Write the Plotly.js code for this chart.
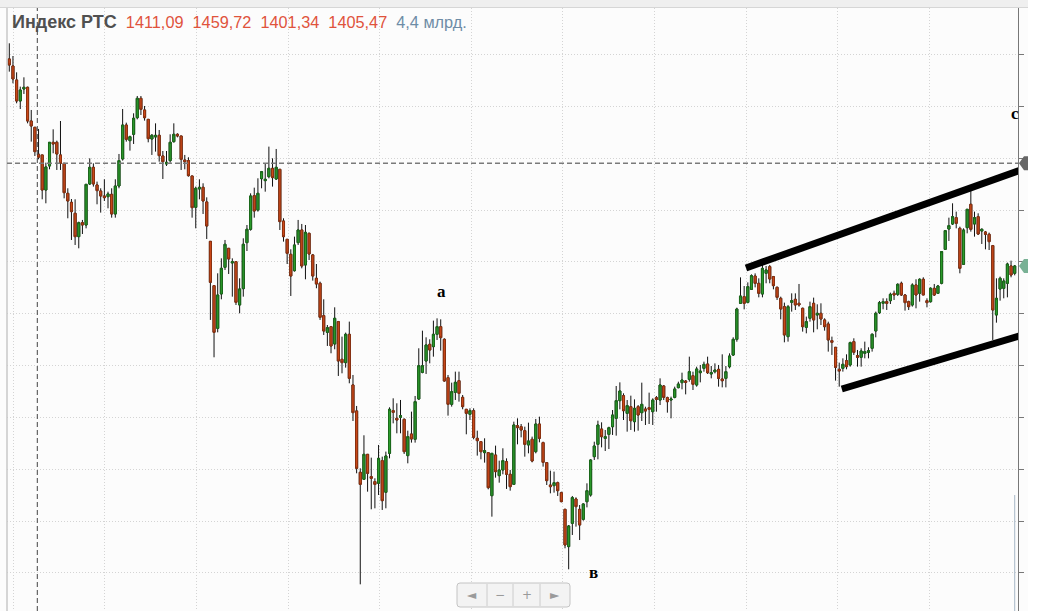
<!DOCTYPE html>
<html>
<head>
<meta charset="utf-8">
<script src="https://cdn.plot.ly/plotly-3.0.1.min.js"></script>
<style>
  html, body { margin: 0; padding: 0; background: #fcfcfc; }
  #chart { width: 1040px; height: 611px; }
</style>
</head>
<body>
<div id="chart"></div>
<script>
// ---- Weekly candles of the RTS index ----
const open = [
1594.3,1580.8,1553.9,1513.5,1536.6,1539.8,1475.0,1462.9,1411.09,1409.7,
1342.3,1388.5,1434.0,1434.0,1409.7,1393.6,1335.9,1318.6,1297.5,1252.6,
1279.5,1275.0,1353.9,1385.9,1352.0,1340.4,1330.8,1329.5,1334.0,1296.2,
1350.0,1402.0,1467.3,1437.2,1449.4,1481.4,1518.6,1496.2,1478.2,1440.4,
1444.3,1447.5,1407.7,1392.3,1398.8,1435.3,1449.4,1446.2,1400.0,1398.8,
1369.3,1309.0,1344.3,1347.5,1319.3,1243.6,1158.4,1076.3,1142.4,1193.6,
1230.2,1202.0,1204.5,1121.2,1152.6,1241.1,1266.7,1331.5,1303.9,1364.1,
1360.3,1368.0,1384.0,1363.5,1382.1,1282.7,1247.5,1218.6,1187.2,1241.1,
1265.4,1198.1,1259.0,1217.4,1172.5,1162.9,1100.7,1068.6,1079.5,1046.2,
1089.2,1016.7,1010.3,1064.8,967.4,917.4,799.4,786.0,834.0,791.1,
781.5,778.3,821.9,761.0,835.9,918.0,903.2,905.2,901.3,831.5,
873.1,862.9,940.4,991.7,1013.5,1045.5,1041.1,1064.8,1079.5,1055.2,
981.4,930.2,953.2,975.7,943.6,920.6,910.9,918.0,864.8,858.4,
837.2,837.2,754.5,832.7,793.0,803.9,819.9,795.6,776.3,889.1,
887.2,879.5,852.0,862.9,839.1,892.3,856.5,818.0,775.0,773.8,
779.5,760.3,728.3,656.5,701.3,748.1,728.2,709.0,742.9,755.8,
829.5,853.2,882.7,864.7,872.4,887.1,903.2,937.2,946.8,912.8,
925.6,896.8,925.6,914.1,921.1,923.7,916.0,942.9,938.4,965.4,
942.9,938.4,943.6,962.2,971.8,975.0,978.2,985.2,967.3,991.0,
999.3,1007.7,988.5,992.9,997.4,978.8,980.1,1002.5,1025.0,1055.1,
1124.3,1137.2,1126.3,1151.3,1176.9,1162.8,1142.3,1182.1,1194.9,1175.7,
1155.2,1134.0,1118.0,1060.3,1126.3,1132.1,1124.4,1114.8,1078.2,1095.6,
1124.4,1102.0,1105.2,1092.4,1084.7,1052.6,1039.8,997.5,999.4,1014.1,
1005.8,1050.7,1023.8,1020.6,1028.2,1030.2,1037.9,1071.2,1106.5,1124.4,
1127.6,1129.5,1143.6,1141.7,1162.9,1140.4,1127.6,1121.2,1159.7,1143.6,
1170.6,1129.5,1127.6,1153.2,1143.6,1162.9,1228.2,1267.3,1276.9,1289.1,
1268.6,1199.4,1269.9,1314.8,1276.9,1291.0,1263.5,1261.6,1257.1,1235.3,
1102.0,1152.0,1153.2,1162.9,1196.2,1182.1
];
const high = [
1624.4,1600.0,1568.6,1541.1,1559.0,1541.1,1496.2,1462.9,1459.72,1409.7,
1394.9,1434.0,1459.0,1437.2,1475.0,1393.6,1345.6,1325.0,1324.4,1281.5,
1284.7,1353.2,1403.2,1393.6,1358.4,1345.6,1362.9,1339.1,1345.6,1362.9,
1411.6,1498.1,1471.8,1446.8,1489.8,1523.1,1523.1,1503.9,1478.2,1450.0,
1470.5,1457.7,1417.3,1417.3,1449.4,1470.5,1451.3,1446.2,1409.7,1405.2,
1369.3,1348.8,1362.9,1355.2,1328.2,1243.6,1158.4,1182.1,1210.9,1246.2,
1230.2,1210.9,1204.5,1172.5,1249.4,1275.0,1335.9,1346.8,1364.8,1378.9,
1393.6,1425.7,1403.2,1421.2,1382.1,1287.9,1247.5,1228.3,1252.6,1284.7,
1277.0,1275.0,1260.3,1219.3,1200.0,1166.1,1132.1,1082.7,1080.8,1116.7,
1090.5,1060.3,1068.0,1089.2,986.6,927.0,807.1,870.6,834.0,827.6,
787.9,852.0,829.5,839.2,924.4,941.7,932.1,938.5,903.2,879.5,
916.1,946.2,1037.9,1071.8,1059.0,1055.2,1091.1,1095.5,1093.6,1057.1,
986.6,971.8,993.0,993.0,948.1,920.6,922.5,922.5,879.5,858.4,
864.8,837.2,835.9,850.7,821.8,845.6,826.3,803.9,896.8,903.2,
892.3,887.2,894.9,868.0,902.0,906.4,858.4,818.0,802.6,800.7,
781.5,762.2,728.3,698.1,753.9,751.3,736.5,739.7,778.2,824.4,
858.3,898.7,895.5,880.8,887.1,919.2,965.4,972.4,951.3,938.4,
946.8,939.7,928.8,971.8,925.6,952.6,941.7,946.1,980.1,967.3,
944.9,944.9,964.1,973.7,991.0,976.9,1021.8,992.9,1002.5,1005.8,
1012.2,1021.8,1003.8,1008.9,1005.8,1026.3,1003.8,1028.2,1059.0,1116.0,
1174.3,1157.7,1164.7,1180.1,1182.0,1172.4,1198.1,1196.2,1198.1,1177.0,
1156.5,1137.2,1125.7,1121.2,1143.6,1143.6,1161.6,1116.1,1098.8,1127.6,
1135.3,1122.5,1124.4,1095.6,1089.1,1060.3,1039.8,1010.3,1018.6,1026.3,
1050.7,1057.1,1034.7,1037.9,1050.7,1039.8,1066.7,1108.4,1128.9,1134.0,
1134.0,1144.9,1148.8,1162.9,1166.1,1142.3,1129.5,1162.9,1170.6,1172.5,
1174.4,1134.0,1155.2,1161.6,1159.7,1225.0,1265.4,1289.1,1316.7,1300.7,
1271.8,1268.6,1305.2,1344.3,1300.7,1297.5,1268.6,1263.5,1260.3,1236.6,
1172.5,1175.7,1172.5,1202.6,1206.4,1198.1
];
const low = [
1569.9,1547.5,1509.0,1498.1,1527.0,1470.5,1435.3,1407.7,1401.34,1324.4,
1316.7,1382.1,1412.9,1380.8,1380.8,1326.3,1287.9,1246.2,1236.6,1230.2,
1257.7,1268.6,1352.0,1348.8,1314.8,1298.8,1321.2,1307.1,1289.1,1289.1,
1345.6,1398.8,1435.3,1418.0,1430.8,1478.2,1486.6,1475.7,1434.0,1409.7,
1416.1,1396.8,1363.5,1388.5,1394.9,1433.4,1443.6,1380.8,1382.1,1368.0,
1289.1,1268.6,1324.4,1296.2,1248.1,1092.4,1020.6,1068.6,1132.1,1188.5,
1180.8,1137.2,1121.2,1105.2,1137.2,1225.0,1264.1,1289.1,1300.7,1345.6,
1339.1,1364.8,1348.8,1361.6,1265.4,1243.0,1200.0,1138.5,1185.3,1236.6,
1191.7,1170.6,1207.7,1168.0,1153.3,1092.4,1063.5,1042.4,1028.3,1036.0,
984.7,989.8,1000.7,970.6,898.1,797.5,584.0,784.7,762.2,728.3,
730.2,755.8,727.0,730.2,826.3,893.6,874.4,874.4,834.7,816.7,
856.5,856.5,938.5,989.8,988.5,1009.0,1021.8,1053.9,1033.4,973.8,
908.4,925.7,938.5,935.3,920.6,872.5,900.0,862.9,831.5,824.4,
818.0,766.7,714.1,789.1,779.5,795.6,767.4,764.1,775.0,853.2,
866.7,829.5,835.9,818.6,835.9,857.1,810.3,775.0,759.0,760.3,
753.9,741.7,653.3,612.9,678.9,694.9,669.2,706.4,732.0,752.6,
823.1,824.4,847.4,840.4,844.2,871.2,869.9,920.5,900.0,877.6,
880.8,877.6,879.5,898.1,890.4,892.3,890.4,916.0,928.8,938.4,
914.1,903.2,941.7,960.9,959.0,949.3,973.7,957.7,964.1,972.4,
992.9,988.5,980.1,989.7,964.1,962.8,962.8,999.3,1023.1,1050.6,
1123.1,1112.8,1124.3,1150.0,1155.1,1135.9,1135.9,1162.9,1162.9,1151.3,
1130.8,1093.6,1049.4,1050.7,1108.4,1111.6,1118.0,1069.9,1066.7,1089.1,
1068.6,1074.4,1082.7,1071.8,1031.5,1025.1,975.7,964.1,993.0,997.5,
1002.6,1025.1,1002.6,1002.6,1018.6,1018.6,1031.5,1059.0,1103.9,1112.9,
1111.6,1123.1,1130.8,1138.5,1138.5,1110.3,1111.6,1118.0,1114.8,1127.6,
1140.4,1116.7,1125.7,1138.5,1142.3,1160.9,1226.9,1244.3,1275.0,1268.6,
1182.1,1198.1,1259.0,1262.2,1252.6,1255.8,1238.5,1228.2,1226.9,1053.9,
1087.2,1129.5,1134.0,1135.9,1174.4,1178.2
];
const close = [
1582.7,1555.8,1513.5,1534.6,1539.8,1475.0,1465.4,1416.1,1405.47,1342.3,
1386.6,1434.0,1430.8,1411.6,1393.6,1337.2,1321.2,1300.7,1252.6,1279.5,
1275.0,1353.2,1385.9,1353.9,1341.1,1330.8,1327.6,1334.7,1296.2,1350.0,
1398.8,1467.3,1439.8,1444.9,1480.2,1518.6,1497.5,1481.4,1441.1,1447.5,
1447.5,1408.4,1396.8,1395.6,1434.0,1449.4,1446.2,1401.3,1396.8,1369.9,
1308.4,1345.6,1347.5,1321.2,1273.1,1164.8,1068.6,1140.4,1191.7,1237.9,
1209.7,1204.5,1126.3,1152.0,1237.9,1266.7,1330.8,1302.0,1335.9,1377.6,
1362.9,1384.0,1366.1,1385.9,1281.5,1252.6,1220.6,1177.0,1236.6,1265.4,
1196.2,1260.9,1219.3,1177.0,1161.6,1097.5,1071.2,1077.6,1042.4,1095.6,
1013.5,1010.3,1064.8,980.2,914.2,807.1,776.3,834.0,797.5,787.9,
776.3,826.3,744.9,830.8,920.6,914.8,900.0,908.4,839.1,868.0,
863.5,935.3,1004.5,1004.5,1044.3,1034.6,1064.8,1079.5,1058.4,975.0,
930.2,954.5,972.5,951.3,925.7,912.9,918.0,866.7,860.3,839.1,
841.1,769.9,835.9,800.7,803.9,821.8,795.6,771.8,890.4,885.3,
880.8,853.2,859.7,821.2,892.3,864.8,818.6,783.4,771.8,779.5,
764.1,743.0,659.7,696.2,750.7,733.4,698.1,738.5,764.1,823.1,
850.0,890.4,867.9,867.9,885.2,909.6,937.2,955.8,917.9,927.6,
898.7,922.4,909.6,930.1,917.3,920.5,938.4,939.7,967.3,943.6,
935.2,940.4,959.6,969.2,976.9,972.4,992.9,968.6,998.1,994.2,
1007.0,991.0,991.0,996.1,980.1,975.6,992.9,1023.1,1055.1,1113.4,
1138.4,1124.3,1156.4,1177.5,1162.8,1143.6,1191.6,1188.5,1171.2,1158.4,
1135.9,1113.5,1063.5,1118.0,1129.5,1121.2,1121.2,1079.5,1089.1,1118.0,
1092.4,1105.2,1094.3,1079.5,1053.9,1049.4,1001.3,994.3,1007.1,1002.6,
1048.8,1030.2,1020.6,1032.7,1031.5,1033.4,1064.8,1105.2,1125.7,1127.6,
1124.4,1141.7,1140.4,1160.9,1140.4,1125.7,1118.0,1159.7,1140.4,1170.6,
1140.4,1125.7,1153.2,1140.4,1157.7,1223.8,1264.1,1273.8,1291.0,1278.2,
1191.7,1265.4,1305.2,1266.7,1289.1,1257.7,1266.7,1257.1,1243.0,1111.6,
1134.0,1172.5,1167.3,1200.0,1178.9,1196.2
];

// Header values (hovered candle) and volume
const headerName = 'Индекс РТС';
const headerValues = ['1411,09', '1459,72', '1401,34', '1405,47'];
const headerVolume = '4,4 млрд.';

// Hand-drawn channel lines (candle index, price)
const upperTrendX = [202.5, 277.7];
const upperTrendY = [1192.3, 1380.8];
const lowerTrendX = [228.7, 279.1];
const lowerTrendY = [959.6, 1065.4];

// Wave labels
const waveText = ['a', 'в', 'c'];
const waveX = [119.1, 160.7, 276.1];
const waveY = [1146.2, 605.8, 1488.5];

// Crosshair position
const crossX = 8.66;
const crossY = 1393.7;

// Navigator buttons
const navSymbols = ['◄', '−', '+', '►'];

// ---------------------------------------------------------------------
const idx = open.map((_, i) => i + 1);
const bodyHigh = open.map((o, i) => Math.max(o, close[i]));
const bodyLow = open.map((o, i) => Math.min(o, close[i]));
const lastClose = close[close.length - 1];

const W = 1040, H = 611;
const M = {l: 7, r: 22, t: 8, b: 0};
const PW = W - M.l - M.r, PH = H - M.t - M.b;
const xRange = [0.371, 276.9];
const yRange = [532.7, 1692.3];

const X = p => (p - M.l) / PW;          // pixel -> paper x
const Y = p => (H - M.b - p) / PH;      // pixel -> paper y
const VY = v => (v - yRange[0]) / (yRange[1] - yRange[0]); // value -> paper y

const wicks = {
  type: 'candlestick', x: idx, open: open, high: high, low: low, close: close,
  increasing: {line: {color: '#111111', width: 1}, fillcolor: '#111111'},
  decreasing: {line: {color: '#111111', width: 1}, fillcolor: '#111111'},
  whiskerwidth: 0, hoverinfo: 'skip', showlegend: false
};
const bodies = {
  type: 'candlestick', x: idx, open: open, high: bodyHigh, low: bodyLow, close: close,
  increasing: {line: {color: '#1b6b1b', width: 1}, fillcolor: '#2c9c2c'},
  decreasing: {line: {color: '#8e3210', width: 1}, fillcolor: '#cf4a1a'},
  whiskerwidth: 0, hoverinfo: 'skip', showlegend: false
};

function roundRect(x0, y0, x1, y1, r) {
  return 'M' + X(x0 + r) + ',' + Y(y0) +
    ' L' + X(x1 - r) + ',' + Y(y0) +
    ' Q' + X(x1) + ',' + Y(y0) + ' ' + X(x1) + ',' + Y(y0 + r) +
    ' L' + X(x1) + ',' + Y(y1 - r) +
    ' Q' + X(x1) + ',' + Y(y1) + ' ' + X(x1 - r) + ',' + Y(y1) +
    ' L' + X(x0 + r) + ',' + Y(y1) +
    ' Q' + X(x0) + ',' + Y(y1) + ' ' + X(x0) + ',' + Y(y1 - r) +
    ' L' + X(x0) + ',' + Y(y0 + r) +
    ' Q' + X(x0) + ',' + Y(y0) + ' ' + X(x0 + r) + ',' + Y(y0) + ' Z';
}
function priceTag(v, color) {
  const yc = VY(v), h = 7 / PH;
  return {
    type: 'path', xref: 'paper', yref: 'paper',
    path: 'M' + X(1019) + ',' + yc + ' L' + X(1024) + ',' + (yc + h) + ' L' + X(1034) + ',' + (yc + h) +
          ' L' + X(1034) + ',' + (yc - h) + ' L' + X(1024) + ',' + (yc - h) + ' Z',
    fillcolor: color, line: {width: 0}
  };
}

const shapes = [
  // left frame line
  {type: 'line', xref: 'paper', yref: 'paper', x0: 0, x1: 0, y0: 0, y1: 1, line: {color: '#c8c8c8', width: 1.5}},
  // volume bar of the last week
  {type: 'line', xref: 'x', yref: 'paper', x0: idx[idx.length - 1], x1: idx[idx.length - 1], y0: 0, y1: Y(495), line: {color: '#a6b6c6', width: 1}},
  // crosshair
  {type: 'line', xref: 'x', yref: 'paper', x0: crossX, x1: crossX, y0: 0, y1: 1, line: {color: '#444444', width: 1, dash: '5px,3px'}},
  {type: 'line', xref: 'paper', yref: 'y', x0: 0, x1: 1, y0: crossY, y1: crossY, line: {color: '#7a7a7a', width: 1.3, dash: '5px,3px'}},
  // channel lines
  {type: 'line', xref: 'x', yref: 'y', x0: upperTrendX[0], x1: upperTrendX[1], y0: upperTrendY[0], y1: upperTrendY[1], line: {color: '#000000', width: 7}},
  {type: 'line', xref: 'x', yref: 'y', x0: lowerTrendX[0], x1: lowerTrendX[1], y0: lowerTrendY[0], y1: lowerTrendY[1], line: {color: '#000000', width: 7}},
  // price tags on the right
  priceTag(crossY, '#666666'),
  priceTag(lastClose, '#79b195'),
  // white strip at far right
  {type: 'rect', xref: 'paper', yref: 'paper', x0: X(1028), x1: X(1045), y0: Y(615), y1: Y(-5), fillcolor: '#ffffff', line: {width: 0}},
  // top band
  {type: 'rect', xref: 'paper', yref: 'paper', x0: X(-5), x1: X(1028), y0: Y(7), y1: Y(-5), fillcolor: '#efefef', line: {width: 0}},
  {type: 'line', xref: 'paper', yref: 'paper', x0: X(0), x1: X(1028), y0: Y(7.5), y1: Y(7.5), line: {color: '#d6d6d6', width: 1}},
  // navigator box
  {type: 'path', xref: 'paper', yref: 'paper', path: roundRect(457, 583, 570, 607, 3), fillcolor: '#f3f3f3', line: {color: '#c4c4c4', width: 1}},
  {type: 'line', xref: 'paper', yref: 'paper', x0: X(487), x1: X(487), y0: Y(584), y1: Y(606), line: {color: '#cccccc', width: 1}},
  {type: 'line', xref: 'paper', yref: 'paper', x0: X(513), x1: X(513), y0: Y(584), y1: Y(606), line: {color: '#cccccc', width: 1}},
  {type: 'line', xref: 'paper', yref: 'paper', x0: X(540), x1: X(540), y0: Y(584), y1: Y(606), line: {color: '#cccccc', width: 1}}
];

const annotations = waveText.map((t, i) => ({
  x: waveX[i], y: waveY[i], xref: 'x', yref: 'y', text: '<b>' + t + '</b>', showarrow: false,
  font: {family: 'Liberation Serif', size: 17, color: '#000000'}, xanchor: 'center', yanchor: 'middle'
}));
const navCenters = [472, 500, 527, 555];
navSymbols.forEach((s, i) => annotations.push({
  x: X(navCenters[i]), y: Y(595), xref: 'paper', yref: 'paper', text: s, showarrow: false,
  font: {family: 'DejaVu Sans', size: 12, color: '#9a9a9a'}, xanchor: 'center', yanchor: 'middle'
}));

const sp = '\u00a0\u00a0';
const titleText = '<span style="font-size:18px;color:#505050"><b>' + headerName + '</b></span>' + sp +
  headerValues.join(sp) + sp + '<span style="color:#6e8ca6">' + headerVolume + '</span>';

const layout = {
  width: W, height: H,
  margin: M,
  paper_bgcolor: '#fcfcfc', plot_bgcolor: '#fcfcfc',
  font: {family: 'Liberation Sans', size: 12, color: '#333'},
  showlegend: false,
  title: {
    text: titleText, xref: 'container', yref: 'container',
    x: 12 / W, xanchor: 'left', y: 1 - 22 / H, yanchor: 'middle',
    font: {family: 'Liberation Sans', size: 16.3, color: '#e0533c'}
  },
  xaxis: {
    type: 'linear', range: xRange, fixedrange: true,
    rangeslider: {visible: false},
    showticklabels: false, ticks: '', zeroline: false, showline: false,
    showgrid: true, gridcolor: '#d4d4d4', gridwidth: 1, griddash: '1px,2px',
    tick0: 2.09, dtick: 25.055, tickmode: 'linear'
  },
  yaxis: {
    range: yRange, side: 'right', fixedrange: true,
    showticklabels: false, zeroline: false,
    showline: true, linecolor: '#777777', linewidth: 1,
    ticks: 'outside', ticklen: 5, tickcolor: '#777777', tickwidth: 1,
    showgrid: true, gridcolor: '#d4d4d4', gridwidth: 1, griddash: '1px,2px',
    tickmode: 'linear', tick0: 1403.3, dtick: 99.67
  },
  boxgap: 0.2,
  shapes: shapes,
  annotations: annotations
};

Plotly.newPlot('chart', [wicks, bodies], layout, {displayModeBar: false, staticPlot: true});
</script>
</body>
</html>
